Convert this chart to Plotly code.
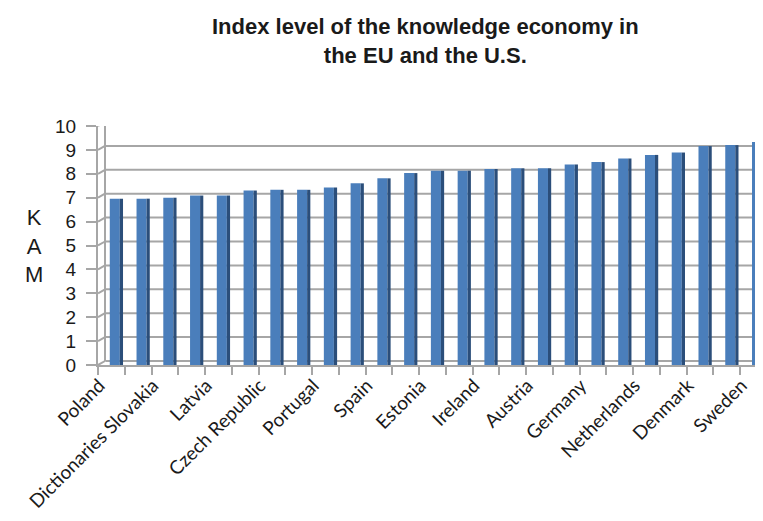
import plotly.graph_objects as go

# --- data ---
positions = list(range(1, 26))
kam_values = [6.96, 6.96, 7.00, 7.09, 7.09, 7.30, 7.33, 7.33, 7.43, 7.60, 7.81, 8.03,
              8.13, 8.13, 8.20, 8.23, 8.23, 8.39, 8.49, 8.64, 8.79, 8.89, 9.16, 9.20, 9.33]
label_positions = [1, 3, 5, 7, 9, 11, 13, 15, 17, 19, 21, 23, 25]
label_texts = ["Poland", "Dictionaries Slovakia", "Latvia", "Czech Republic", "Portugal",
               "Spain", "Estonia", "Ireland", "Austria", "Germany", "Netherlands",
               "Denmark", "Sweden"]
y_ticks = list(range(0, 11))
boundaries = [p - 0.5 for p in positions] + [positions[-1] + 0.5]

GRID = "#A6A6A6"

fig = go.Figure()
# front face of each column
fig.add_trace(go.Bar(x=positions, y=kam_values, width=0.375, offset=-0.06,
                     marker=dict(color="#4A7EBB", line=dict(width=0)), showlegend=False))
# darker side face for a 3-D look
fig.add_trace(go.Bar(x=positions, y=kam_values, width=0.12, offset=0.315,
                     marker=dict(color="#2B4E7A", line=dict(width=0)), showlegend=False))

shapes = []
for v in y_ticks:
    # back-wall gridline (drawn slightly up and to the right, like a 3-D wall)
    shapes.append(dict(type="line", layer="below", xref="paper", x0=0.011, x1=1.0,
                       yref="y", ysizemode="pixel", yanchor=v, y0=4, y1=4,
                       line=dict(color=GRID, width=2)))
    # side-wall diagonal
    shapes.append(dict(type="line", layer="below", xref="x", xsizemode="pixel",
                       xanchor=0.5, x0=0, x1=7, yref="y", ysizemode="pixel",
                       yanchor=v, y0=0, y1=4, line=dict(color=GRID, width=2)))
# back-wall left edge
shapes.append(dict(type="line", layer="below", xref="x", xsizemode="pixel", xanchor=0.5,
                   x0=7, x1=7, yref="y", ysizemode="pixel", yanchor=0, y0=4,
                   y1=4 + 239, line=dict(color=GRID, width=2)))

fig.update_layout(
    width=763, height=521,
    barmode="overlay",
    plot_bgcolor="white", paper_bgcolor="white",
    margin=dict(l=90, r=4, t=118, b=164),
    font=dict(family="Liberation Sans, Arial", color="#1a1a1a"),
    shapes=shapes,
)
fig.update_xaxes(
    range=[0.5, 25.5], tickmode="array", tickvals=label_positions, ticktext=label_texts,
    tickangle=-45, ticks="", showgrid=False, zeroline=False,
    showline=True, linecolor=GRID, linewidth=2, ticklabelshift=-12,
    tickfont=dict(family="Lato, Open Sans", size=19, color="#1a1a1a"),
    minor=dict(tickvals=boundaries, ticks="outside", ticklen=8, tickcolor=GRID,
               tickwidth=2, showgrid=False),
)
fig.update_yaxes(
    range=[0, 10], tickmode="array", tickvals=y_ticks, ticks="outside", ticklen=10,
    tickcolor=GRID, tickwidth=2, ticklabelstandoff=6,
    showgrid=False, zeroline=False,
    showline=True, linecolor=GRID, linewidth=2,
    tickfont=dict(family="Liberation Sans, Arial", size=19, color="#1a1a1a"),
)
# chart title
fig.add_annotation(text="<b>Index level of the knowledge economy in<br>the EU and the U.S.</b>",
                   xref="paper", yref="paper", x=0.49, y=1.234,
                   xanchor="center", yanchor="bottom", showarrow=False,
                   font=dict(family="Liberation Sans, Arial", size=22, color="#1a1a1a"))
# axis title, letters stacked
fig.add_annotation(text="K<br>A<br>M", xref="paper", yref="paper", x=-0.095, y=0.5,
                   xanchor="center", yanchor="middle", showarrow=False,
                   font=dict(family="Liberation Sans, Arial", size=22, color="#1a1a1a"))

fig.write_html("out.html")
